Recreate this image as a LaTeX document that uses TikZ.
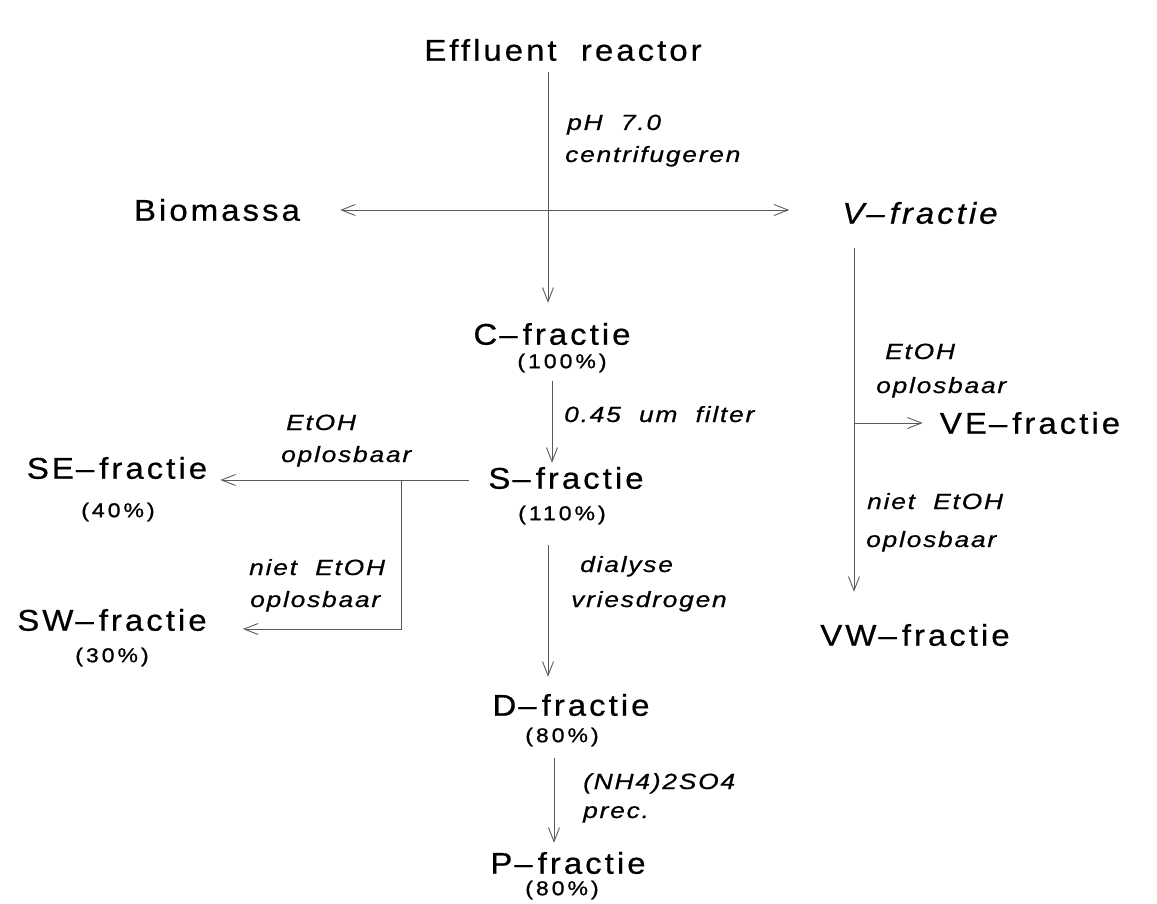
\documentclass[tikz,border=0pt]{standalone}
\usepackage{fontspec}
\setmainfont{Liberation Sans}
\newfontfamily\fracfont[LetterSpace=10,FakeStretch=1.1,FakeBold=0.6]{Liberation Sans}
\newfontfamily\pctfont[LetterSpace=15,FakeStretch=1.15,FakeBold=1]{Liberation Sans}
\newfontfamily\stepfont[LetterSpace=8,FakeStretch=1.2,FakeBold=0.6]{Liberation Sans}
\newcommand\fdash{\kern2pt–\kern5pt}
\usetikzlibrary{arrows.meta}
\tikzset{
    fraction/.style={
        inner sep=0pt,
        font=\fracfont\fontsize{30}{36}\selectfont,
    },
    yield/.style={
        inner sep=0pt,
        font=\pctfont\fontsize{20}{24}\selectfont,
    },
    handling/.style={
        inner sep=0pt,
        anchor=base west,
        font=\stepfont\itshape\fontsize{22}{26}\selectfont,
    },
    flow/.style={
        ->,
        draw=black!65,
        line width=0.9pt,
    },
}
\begin{document}
\begin{tikzpicture}[x=1pt,y=-1pt,>={Straight Barb[length=14pt,width=11pt]}]
          \useasboundingbox (0,0) rectangle (1157,904);

          \node [fraction] (eff) at (563,50) {Effluent\ \ reactor};
          \node [fraction] (bio) at (217,210) {Biomassa};
          \node [fraction,font=\fracfont\itshape\fontsize{30}{36}\selectfont] (vfr) at (920,213) {V\fdash fractie};
          \node [fraction] (C) at (552,334) {C\fdash fractie};
          \node [yield] (pC) at (562,363) {(100\%)};
          \node [fraction] (S) at (566,478) {S\fdash fractie};
          \node [yield] (pS) at (562,515) {(110\%)};
          \node [fraction] (SE) at (117,468) {SE\fdash fractie};
          \node [yield] (pSE) at (118,512) {(40\%)};
          \node [fraction] (SW) at (112,620) {SW\fdash fractie};
          \node [yield] (pSW) at (112,657) {(30\%)};
          \node [fraction] (VE) at (1030,423) {VE\fdash fractie};
          \node [fraction] (VW) at (915,635) {VW\fdash fractie};
          \node [fraction] (D) at (571,705) {D\fdash fractie};
          \node [yield] (pD) at (562,737) {(80\%)};
          \node [fraction] (P) at (568,863) {P\fdash fractie};
          \node [yield] (pP) at (562,890) {(80\%)};

          \node [handling] (lpH) at (567,130) {pH\ \ 7.0};
          \node [handling] (lcent) at (565,162) {centrifugeren};
          \node [handling] (lfilt) at (564,422) {0.45\ \ um\ \ filter};
          \node [handling] (lse1) at (286,430) {EtOH};
          \node [handling] (lse2) at (281,462) {oplosbaar};
          \node [handling] (lsw1) at (249,575) {niet\ \ EtOH};
          \node [handling] (lsw2) at (250,607) {oplosbaar};
          \node [handling] (ldia1) at (580,572) {dialyse};
          \node [handling] (ldia2) at (571,607) {vriesdrogen};
          \node [handling] (lve1) at (885,359) {EtOH};
          \node [handling] (lve2) at (876,393) {oplosbaar};
          \node [handling] (lvw1) at (867,509) {niet\ \ EtOH};
          \node [handling] (lvw2) at (866,547) {oplosbaar};
          \node [handling] (lam1) at (583,789) {(NH4)2SO4};
          \node [handling] (lam2) at (583,818) {prec.};

          \coordinate (jS) at ([xshift=-87pt,yshift=-2pt]S.west);
          \coordinate (jV) at ([xshift=-66pt]vfr.south);

          \draw [flow, shorten <=11pt, shorten >=20pt] ([xshift=-15pt]eff.south) -- ([xshift=-4pt]C.north);
          \draw [flow, <->, shorten <=40pt, shorten >=53pt] (bio.east) -- (bio.east -| vfr.west);
          \draw [flow, shorten <=8pt, shorten >=4pt] ([xshift=-10pt]pC.south) -- ([xshift=-14pt]S.north);
          \draw [flow, shorten <=19pt, shorten >=13pt] ([yshift=-2pt]S.west) -- (jS -| SE.east);
          \draw [flow, shorten >=36pt] (jS) |- ([yshift=-9pt]SW.east);
          \draw [flow, shorten <=20pt, shorten >=17pt] ([xshift=-14pt]pS.south) -- ([xshift=-23pt]D.north);
          \draw [flow, shorten <=11pt, shorten >=9pt] ([xshift=-8pt]pD.south) -- ([xshift=-14pt]P.north);
          \draw [flow, shorten <=24pt, shorten >=32pt] (jV) -- (jV |- VW.north);
          \draw [flow, shorten >=17pt] (jV |- VE.west) -- (VE.west);
        \end{tikzpicture}
\end{document}
